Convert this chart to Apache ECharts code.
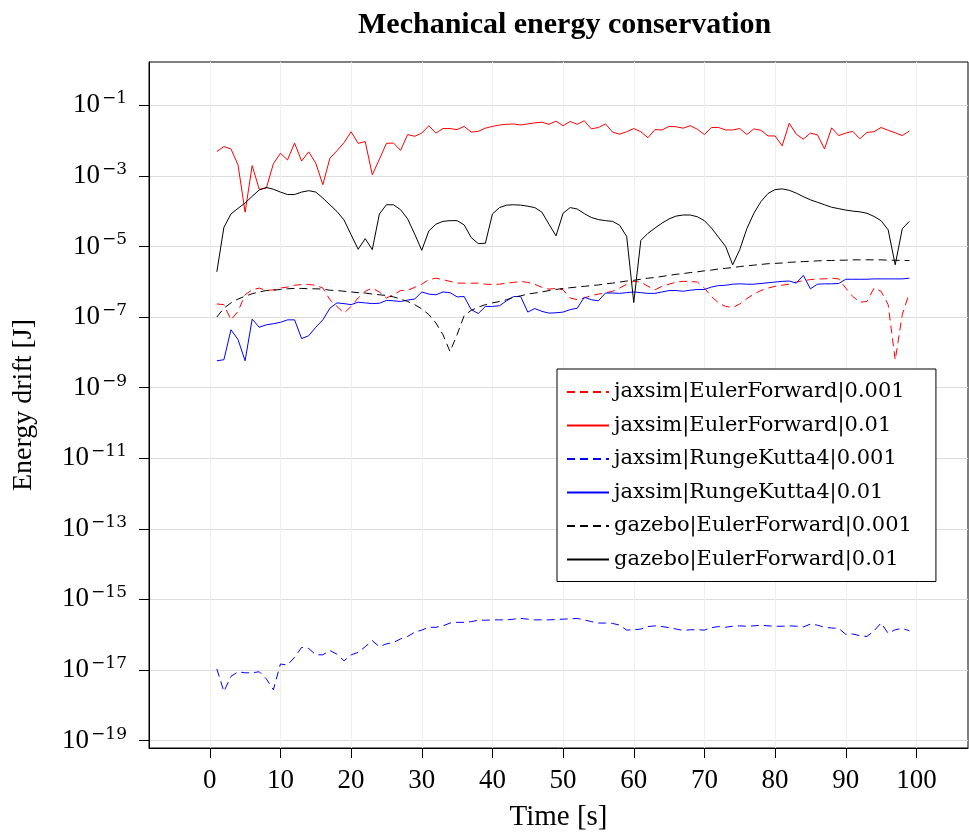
<!DOCTYPE html>
<html>
<head>
<meta charset="utf-8">
<title>Mechanical energy conservation</title>
<script src="https://cdn.jsdelivr.net/npm/echarts@6/dist/echarts.min.js"></script>
<style>
  html, body { margin: 0; padding: 0; background: #fff; }
  #chart { width: 969px; height: 838px; }
</style>
</head>
<body>
<div id="chart"></div>
<script>
  // time steps [s]
  const time = Array.from({ length: 99 }, (_, i) => i + 1)

  // energy drift, stored as log10 of the value in J
  const eulerFwd001 = [
    -6.63, -6.65, -7.08, -6.84, -6.37, -6.23, -6.18, -6.25, -6.23, -6.18,
    -6.15, -6.10, -6.08, -6.08, -6.10, -6.18, -6.51, -6.70, -6.89, -6.70,
    -6.46, -6.27, -6.18, -6.29, -6.46, -6.37, -6.25, -6.24, -6.16, -6.07,
    -5.94, -5.90, -5.94, -5.99, -6.04, -6.04, -6.04, -6.04, -6.07, -6.08,
    -6.07, -6.04, -6.02, -5.99, -6.02, -6.07, -6.16, -6.21, -6.19, -6.23,
    -6.46, -6.51, -6.46, -6.39, -6.35, -6.32, -6.27, -6.18, -6.07, -5.99,
    -6.01, -6.13, -6.23, -6.13, -6.07, -6.01, -5.99, -5.99, -6.01, -6.18,
    -6.42, -6.60, -6.70, -6.73, -6.63, -6.48, -6.35, -6.25, -6.18, -6.13,
    -6.10, -6.07, -6.01, -5.97, -5.94, -5.92, -5.92, -5.90, -5.92, -6.18,
    -6.42, -6.58, -6.56, -6.18, -6.27, -6.65, -8.22, -6.93, -6.32
  ]
  const eulerFwd01 = [
    -2.31, -2.17, -2.24, -2.69, -4.03, -2.71, -3.38, -3.35, -2.66, -2.36,
    -2.55, -2.07, -2.58, -2.32, -2.64, -3.25, -2.50, -2.29, -2.06, -1.75,
    -2.08, -2.03, -2.97, -2.53, -2.08, -2.07, -2.28, -1.83, -1.88, -1.79,
    -1.58, -1.79, -1.66, -1.66, -1.69, -1.60, -1.76, -1.74, -1.65, -1.60,
    -1.56, -1.54, -1.53, -1.56, -1.53, -1.50, -1.48, -1.54, -1.45, -1.58,
    -1.46, -1.54, -1.44, -1.67, -1.63, -1.53, -1.76, -1.82, -1.75, -1.66,
    -1.75, -1.92, -1.69, -1.70, -1.60, -1.61, -1.65, -1.58, -1.68, -1.83,
    -1.63, -1.63, -1.70, -1.70, -1.66, -1.83, -1.67, -1.71, -1.87, -1.87,
    -2.15, -1.51, -1.82, -1.96, -1.79, -1.84, -2.24, -1.64, -1.86, -1.79,
    -1.74, -1.95, -1.77, -1.75, -1.63, -1.71, -1.78, -1.86, -1.73
  ]
  const rk4001 = [
    -16.97, -17.61, -17.18, -17.05, -17.08, -17.08, -17.05, -17.25, -17.56, -16.83,
    -16.86, -16.64, -16.36, -16.39, -16.57, -16.57, -16.45, -16.55, -16.74, -16.57,
    -16.50, -16.34, -16.17, -16.34, -16.26, -16.22, -16.12, -16.05, -15.93, -15.87,
    -15.79, -15.79, -15.75, -15.67, -15.65, -15.65, -15.63, -15.59, -15.59, -15.58,
    -15.58, -15.58, -15.56, -15.54, -15.56, -15.58, -15.58, -15.58, -15.57, -15.56,
    -15.55, -15.54, -15.58, -15.63, -15.67, -15.67, -15.68, -15.73, -15.87, -15.86,
    -15.84, -15.77, -15.75, -15.77, -15.80, -15.84, -15.88, -15.86, -15.86, -15.87,
    -15.80, -15.77, -15.79, -15.76, -15.75, -15.76, -15.75, -15.73, -15.75, -15.76,
    -15.76, -15.75, -15.76, -15.78, -15.70, -15.73, -15.79, -15.81, -15.82, -15.99,
    -15.98, -16.03, -16.05, -15.89, -15.67, -15.96, -15.86, -15.82, -15.89
  ]
  const rk401 = [
    -8.24, -8.21, -7.36, -7.64, -8.24, -7.06, -7.29, -7.22, -7.19, -7.15,
    -7.08, -7.08, -7.61, -7.53, -7.29, -7.08, -6.75, -6.60, -6.62, -6.65,
    -6.58, -6.60, -6.62, -6.61, -6.53, -6.54, -6.56, -6.52, -6.49, -6.29,
    -6.35, -6.37, -6.29, -6.31, -6.43, -6.42, -6.79, -6.90, -6.70, -6.70,
    -6.68, -6.54, -6.42, -6.42, -6.86, -6.76, -6.84, -6.89, -6.88, -6.86,
    -6.79, -6.75, -6.44, -6.51, -6.54, -6.32, -6.32, -6.33, -6.31, -6.29,
    -6.31, -6.33, -6.33, -6.29, -6.25, -6.25, -6.27, -6.24, -6.22, -6.22,
    -6.15, -6.11, -6.10, -6.07, -6.06, -6.07, -6.07, -6.05, -6.03, -6.01,
    -5.99, -5.98, -6.04, -5.82, -6.20, -6.07, -6.06, -6.06, -6.05, -5.93,
    -5.93, -5.93, -5.93, -5.92, -5.92, -5.92, -5.92, -5.92, -5.90
  ]
  const gazebo001 = [
    -7.00, -6.75, -6.60, -6.49, -6.41, -6.34, -6.29, -6.25, -6.24, -6.22,
    -6.20, -6.19, -6.19, -6.20, -6.20, -6.21, -6.24, -6.25, -6.27, -6.29,
    -6.31, -6.32, -6.35, -6.37, -6.39, -6.43, -6.49, -6.56, -6.65, -6.77,
    -6.93, -7.17, -7.50, -7.98, -7.50, -6.96, -6.81, -6.72, -6.65, -6.60,
    -6.56, -6.51, -6.44, -6.40, -6.35, -6.32, -6.29, -6.25, -6.22, -6.19,
    -6.17, -6.15, -6.13, -6.11, -6.09, -6.06, -6.04, -6.01, -5.98, -5.96,
    -5.93, -5.90, -5.88, -5.85, -5.82, -5.79, -5.77, -5.74, -5.72, -5.69,
    -5.67, -5.64, -5.62, -5.60, -5.57, -5.55, -5.53, -5.51, -5.49, -5.48,
    -5.47, -5.45, -5.44, -5.43, -5.42, -5.41, -5.40, -5.40, -5.39, -5.39,
    -5.38, -5.38, -5.38, -5.38, -5.38, -5.39, -5.39, -5.40, -5.40
  ]
  const gazebo01 = [
    -5.72, -4.46, -4.08, -3.92, -3.77, -3.58, -3.40, -3.33, -3.38, -3.46,
    -3.53, -3.53, -3.46, -3.42, -3.46, -3.63, -3.82, -4.01, -4.25, -4.67,
    -5.08, -4.78, -5.09, -4.08, -3.82, -3.82, -3.96, -4.22, -4.65, -5.11,
    -4.56, -4.37, -4.29, -4.27, -4.27, -4.39, -4.75, -4.92, -4.91, -4.08,
    -3.90, -3.83, -3.82, -3.83, -3.86, -3.90, -4.03, -4.37, -4.70, -4.06,
    -3.90, -3.94, -4.07, -4.18, -4.24, -4.27, -4.29, -4.40, -4.72, -6.59,
    -4.83, -4.63, -4.48, -4.34, -4.22, -4.14, -4.11, -4.11, -4.16, -4.27,
    -4.48, -4.74, -5.00, -5.52, -5.09, -4.50, -4.06, -3.73, -3.50, -3.39,
    -3.37, -3.41, -3.49, -3.59, -3.68, -3.75, -3.82, -3.89, -3.93, -3.97,
    -4.00, -4.02, -4.06, -4.15, -4.27, -4.53, -5.52, -4.50, -4.29
  ]

  const xTicks = [0, 10, 20, 30, 40, 50, 60, 70, 80, 90, 100]
  const yTicks = [1e-19, 1e-17, 1e-15, 1e-13, 1e-11, 1e-9, 1e-7, 1e-5, 1e-3, 1e-1]

  const serif = '"Liberation Serif", "DejaVu Serif", serif'
  const wideSerif = '"DejaVu Serif", serif'
  const dash = [8, 5]

  const toPoints = exps => exps.map((e, i) => [time[i], Math.pow(10, e)])

  function powLabel(v) {
    const e = Math.round(Math.log10(v))
    return '{b|10}{s|' + (e < 0 ? '\u2212' + (-e) : e) + '}'
  }

  function line(name, exps, color, dashed) {
    return {
      name: name,
      type: 'line',
      data: toPoints(exps),
      symbol: 'none',
      lineStyle: { color: color, width: 1, type: dashed ? dash : 'solid' },
      itemStyle: { color: color }
    }
  }

  const chart = echarts.init(document.getElementById('chart'))
  chart.setOption({
    animation: false,
    backgroundColor: '#fff',
    title: {
      text: 'Mechanical energy conservation',
      left: 353,
      top: 5,
      textStyle: { fontFamily: serif, fontWeight: 'bold', fontSize: 30, color: '#000' }
    },
    grid: {
      left: 149, right: 1, top: 62, bottom: 90,
      show: true, borderColor: '#000', borderWidth: 1
    },
    legend: {
      orient: 'vertical',
      left: 557,
      top: 369,
      padding: [11, 24, 10, 9],
      itemWidth: 42,
      itemHeight: 14,
      itemGap: 9.5,
      itemStyle: { opacity: 0 },
      backgroundColor: '#fff',
      borderColor: '#000',
      borderWidth: 1,
      textStyle: { fontFamily: wideSerif, fontSize: 21, color: '#000', lineHeight: 24 },
      data: [
        'jaxsim|EulerForward|0.001', 'jaxsim|EulerForward|0.01',
        'jaxsim|RungeKutta4|0.001', 'jaxsim|RungeKutta4|0.01',
        'gazebo|EulerForward|0.001', 'gazebo|EulerForward|0.01'
      ]
    },
    xAxis: {
      type: 'value',
      min: -8.6,
      max: 107.3,
      name: 'Time [s]',
      nameLocation: 'middle',
      nameGap: 55,
      nameTextStyle: { fontFamily: serif, fontSize: 29, color: '#000' },
      axisLine: { show: true, onZero: false, lineStyle: { color: '#000' } },
      axisTick: { show: true, length: 10, customValues: xTicks, lineStyle: { color: '#000' } },
      axisLabel: { customValues: xTicks, margin: 19, fontFamily: serif, fontSize: 27, color: '#000' },
      splitLine: { show: true, lineStyle: { color: '#efefef' } }
    },
    yAxis: {
      type: 'log',
      logBase: 10,
      min: Math.pow(10, -19.21),
      max: Math.pow(10, 0.225),
      name: 'Energy drift [J]',
      nameLocation: 'middle',
      nameGap: 111,
      nameTextStyle: { fontFamily: serif, fontSize: 28, color: '#000' },
      axisLine: { show: true, onZero: false, lineStyle: { color: '#000' } },
      axisTick: { show: true, length: 10, customValues: yTicks, lineStyle: { color: '#000' } },
      axisLabel: {
        customValues: yTicks,
        margin: 22,
        formatter: powLabel,
        rich: {
          b: { fontFamily: serif, fontSize: 27, color: '#000' },
          s: { fontFamily: wideSerif, fontSize: 17, color: '#000', padding: [0, 0, 13, 2] }
        }
      },
      splitLine: { show: true, lineStyle: { color: '#dcdcdc' } }
    },
    series: [
      line('jaxsim|EulerForward|0.001', eulerFwd001, '#ff0000', true),
      line('jaxsim|EulerForward|0.01', eulerFwd01, '#ff0000', false),
      line('jaxsim|RungeKutta4|0.001', rk4001, '#0000ff', true),
      line('jaxsim|RungeKutta4|0.01', rk401, '#0000ff', false),
      line('gazebo|EulerForward|0.001', gazebo001, '#000000', true),
      line('gazebo|EulerForward|0.01', gazebo01, '#000000', false)
    ]
  })
</script>
</body>
</html>
